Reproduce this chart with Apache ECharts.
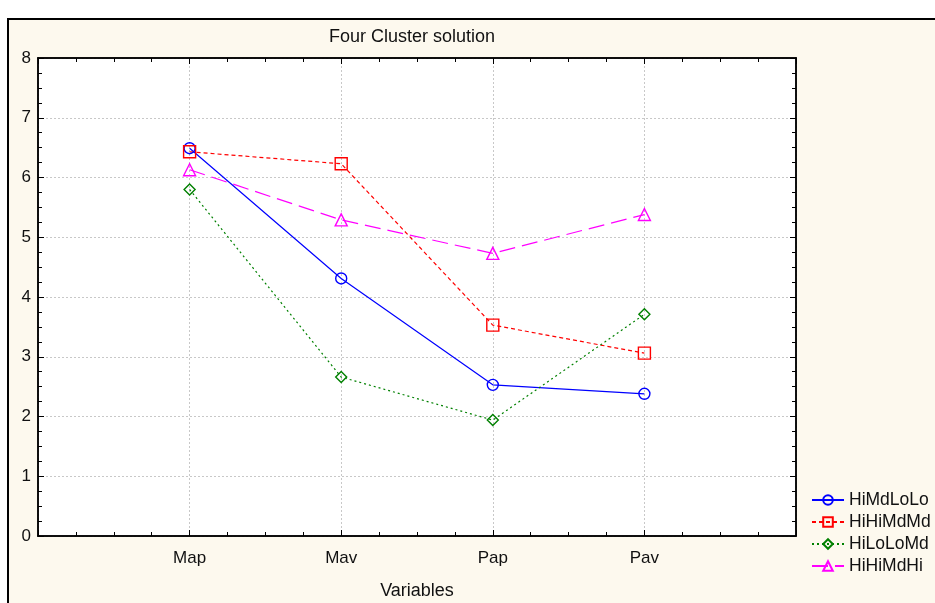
<!DOCTYPE html>
<html><head><meta charset="utf-8">
<script src="https://cdn.jsdelivr.net/npm/echarts@6/dist/echarts.min.js"></script>
<style>html,body{margin:0;padding:0;background:#fff}#c{width:935px;height:603px}</style>
</head><body><div id="c"></div>
<script>
var categories = ['Map', 'Mav', 'Pap', 'Pav'];
var seriesNames = ['HiMdLoLo', 'HiHiMdMd', 'HiLoLoMd', 'HiHiMdHi'];
var HiMdLoLo = [6.49, 4.31, 2.53, 2.38];
var HiHiMdMd = [6.43, 6.23, 3.53, 3.06];
var HiLoLoMd = [5.80, 2.66, 1.94, 3.71];
var HiHiMdHi = [6.13, 5.29, 4.73, 5.38];
var yTicks = [0, 1, 2, 3, 4, 5, 6, 7, 8];

var values = [HiMdLoLo, HiHiMdMd, HiLoLoMd, HiHiMdHi];
var colors = ['#0000ff', '#ff0000', '#008000', '#ff00ff'];
var symbols = ['circle', 'rect', 'diamond', 'triangle'];
var sizes = [11, 12, 11, 12];
var dashes = ['solid', [4, 3], [2, 3], [16, 7]];
var font = 'Liberation Sans, Arial, sans-serif';

var chart = echarts.init(document.getElementById('c'));
var series = values.map(function (v, i) {
  return {
    name: seriesNames[i], type: 'line',
    xAxisIndex: 0, yAxisIndex: 0,
    data: v.map(function (y, j) { return [j + 1, y]; }),
    symbol: symbols[i], symbolSize: sizes[i],
    color: colors[i],
    lineStyle: { color: colors[i], width: 1.2, type: dashes[i] },
    itemStyle: { color: 'rgba(255,255,255,0)', borderColor: colors[i], borderWidth: 1.4 },
    emphasis: { disabled: true },
    animation: false
  };
});

var blackLine = { show: true, onZero: false, lineStyle: { color: '#000', width: 1.5 } };
function tickAxis(kind, pos, interval, len) {
  var yMin = yTicks[0], yMax = yTicks[yTicks.length - 1];
  return {
    type: 'value', gridIndex: 0, position: pos, offset: 0,
    min: kind === 'x' ? 0 : yMin, max: kind === 'x' ? 5 : yMax, interval: interval,
    axisLine: blackLine,
    axisTick: { show: true, inside: true, length: len, lineStyle: { color: '#000', width: 1 } },
    splitLine: { show: false }, axisLabel: { show: false }
  };
}

chart.setOption({
  backgroundColor: '#fff',
  animation: false,
  graphic: [{
    type: 'rect', z: -10, silent: true,
    shape: { x: 8, y: 19, width: 940, height: 600 },
    style: { fill: '#fdf9ee', stroke: '#000', lineWidth: 2 }
  }],
  title: {
    text: 'Four Cluster solution', left: 407, top: 23, textAlign: 'center',
    textStyle: { fontFamily: font, fontSize: 18, fontWeight: 'normal', color: '#111' }
  },
  legend: {
    orient: 'vertical', left: 806, top: 486, itemGap: 4,
    itemWidth: 32, itemHeight: 12,
    data: seriesNames,
    textStyle: { fontFamily: font, fontSize: 17.5, color: '#111' }
  },
  grid: [{ left: 38, top: 58, right: 139, bottom: 67, show: true, backgroundColor: '#fff', borderWidth: 0,
    containLabel: false, outerBoundsMode: 'none' }],
  xAxis: [{
    type: 'value', min: 0, max: 5, interval: 1, gridIndex: 0, position: 'bottom',
    name: 'Variables', nameLocation: 'middle', nameGap: 46,
    nameTextStyle: { fontFamily: font, fontSize: 18, color: '#111' },
    axisLine: blackLine,
    axisTick: { show: true, inside: true, length: 6, lineStyle: { color: '#000' } },
    splitLine: { show: true, lineStyle: { color: '#c8c8c8', type: [2, 2] } },
    axisLabel: { fontFamily: font, fontSize: 17, color: '#111', margin: 14,
      formatter: function (v) { return (v >= 1 && v <= categories.length) ? categories[v - 1] : ''; } }
  },
    tickAxis('x', 'bottom', 0.25, 4),
    tickAxis('x', 'top', 0.25, 4),
    tickAxis('x', 'top', 1, 6)
  ],
  yAxis: [{
    type: 'value', min: yTicks[0], max: yTicks[yTicks.length - 1], interval: 1, gridIndex: 0, position: 'left',
    axisLine: blackLine,
    axisTick: { show: true, inside: true, length: 6, lineStyle: { color: '#000' } },
    splitLine: { show: true, lineStyle: { color: '#c8c8c8', type: [2, 2] } },
    axisLabel: { fontFamily: font, fontSize: 17, color: '#111', margin: 7 }
  },
    tickAxis('y', 'left', 0.25, 4),
    tickAxis('y', 'right', 0.25, 4),
    tickAxis('y', 'right', 1, 6)
  ],
  series: series
});
</script></body></html>
